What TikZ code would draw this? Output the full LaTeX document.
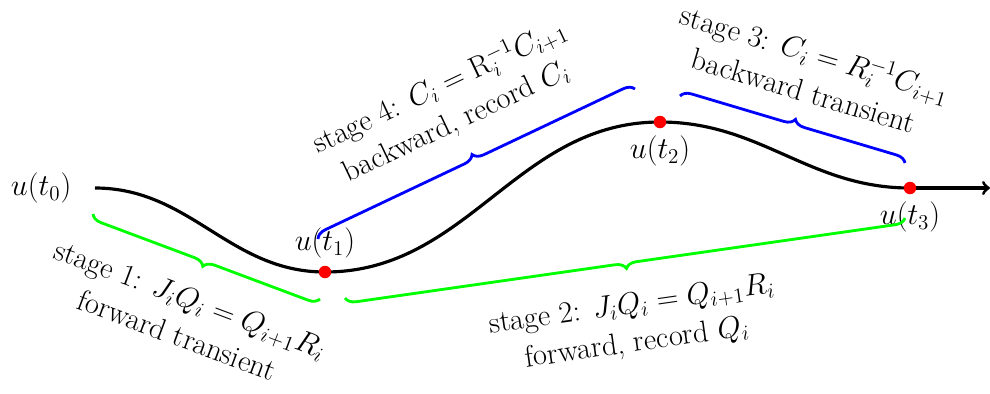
\documentclass[tikz,border=0pt]{standalone}
\usetikzlibrary{decorations.pathreplacing,positioning}
\begin{document}
\begin{tikzpicture}[>=to, x=0.02cm, y=-0.02cm, font=\LARGE, node distance=0.15cm,
  dot/.style={circle, fill=red, inner sep=0pt, minimum size=0.25cm},
  upbrace/.style={decorate, decoration={brace, amplitude=6pt}, line width=1.6pt},
  downbrace/.style={decorate, decoration={brace, mirror, amplitude=6pt}, line width=1.6pt},
  stage/.style={midway, sloped, align=center, text=black}]
\useasboundingbox (0,0) rectangle (990,393);
\coordinate (t0) at (95,188);
\coordinate (t1) at (325,272);
\coordinate (t2) at (660,122);
\coordinate (t3) at (910,188);
\coordinate (tend) at (990,188);
\draw[line width=1.8pt] (t0) to[out=0, in=180] (t1) to[out=0, in=180] (t2) to[out=0, in=180] (t3);
\draw[->, line width=1.8pt] (t3) -- (tend);
\node[dot] (d1) at (t1) {};
\node[dot] (d2) at (t2) {};
\node[dot] (d3) at (t3) {};
\node[left=0.35cm of t0] (lt0) {$u(t_0)$};
\node[above=of t1] (lt1) {$u(t_1)$};
\node[below=of t2] (lt2) {$u(t_2)$};
\node[below=of t3] (lt3) {$u(t_3)$};
% braces
\coordinate (b1s) at (93,214);
\coordinate (b1e) at (320,299);
\coordinate (b2s) at (345,298);
\coordinate (b2e) at (905,218);
\coordinate (b3s) at (680,96);
\coordinate (b3e) at (905,163);
\coordinate (b4s) at (318,239);
\coordinate (b4e) at (635,89);
\draw[downbrace, green] (b1s) -- (b1e)
  node[stage, below=0.55cm] (s1) {stage 1: $J_iQ_i=Q_{i+1}R_i$\\forward transient};
\draw[downbrace, green] (b2s) -- (b2e)
  node[stage, below=0.55cm] (s2) {stage 2: $J_iQ_i=Q_{i+1}R_i$\\forward, record $Q_i$};
\draw[upbrace, blue] (b3s) -- (b3e)
  node[stage, above=0.45cm] (s3) {stage 3: $C_i=R_i^{-1}C_{i+1}$\\backward transient};
\draw[upbrace, blue] (b4s) -- (b4e)
  node[stage, above=0.5cm] (s4) {stage 4: $C_i=\mathrm{R}_i^{-1}C_{i+1}$\\backward, record $C_i$};
\end{tikzpicture}
\end{document}
